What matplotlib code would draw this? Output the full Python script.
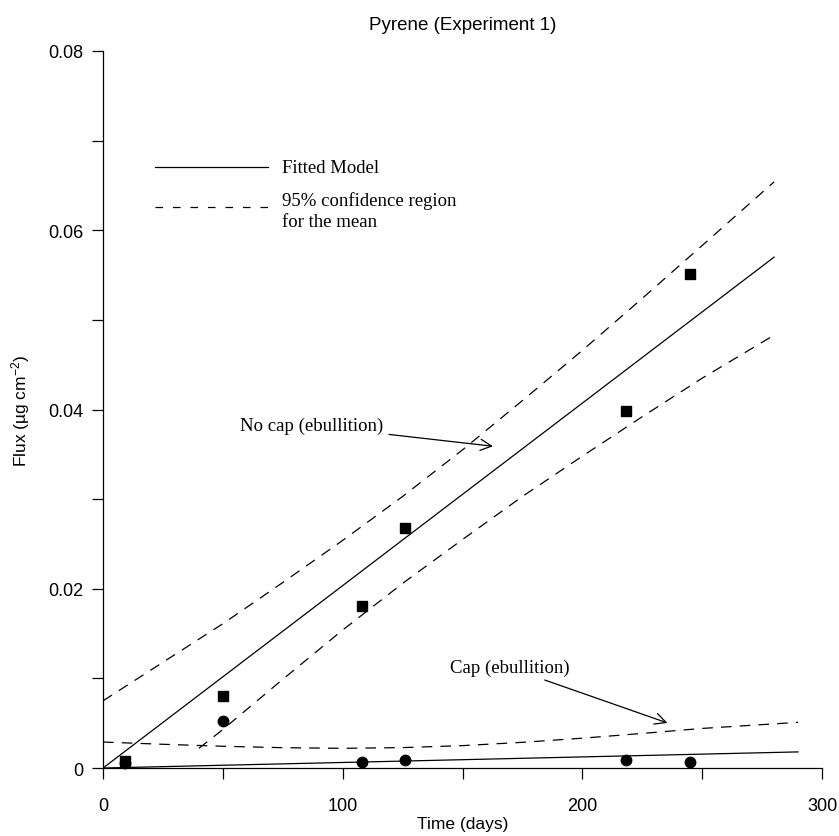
import matplotlib
matplotlib.use('Agg')
import matplotlib.pyplot as plt
from matplotlib.ticker import MultipleLocator

plt.rcParams['font.family'] = ['Liberation Sans', 'DejaVu Sans']
plt.rcParams['mathtext.default'] = 'regular'

# Datos: tiempo (dias) y flujo (ug cm-2)
dias_nocap = [9, 50, 108, 126, 218, 245]
flujo_nocap = [0.0008, 0.0080, 0.0181, 0.0268, 0.0398, 0.0551]
dias_cap = [9, 50, 108, 126, 218, 245]
flujo_cap = [0.0006, 0.0052, 0.0007, 0.0009, 0.0009, 0.0007]

# Modelo ajustado (extremos de las rectas)
x_ajuste_nocap = [0, 280]
y_ajuste_nocap = [0.0, 0.0570]
x_ajuste_cap = [0, 290]
y_ajuste_cap = [0.0, 0.0018]

# Banda de confianza 95% (puntos leidos a lo largo de las curvas)
x_sup_nocap = [0, 25, 50, 75, 100, 125, 150, 175, 200, 225, 250, 280]
y_sup_nocap = [0.0075, 0.0118, 0.0161, 0.0207, 0.0254, 0.0303, 0.0355, 0.0410, 0.0466, 0.0524, 0.0583, 0.0654]
x_inf_nocap = [40, 50, 75, 100, 125, 150, 175, 200, 225, 250, 280]
y_inf_nocap = [0.0022, 0.0043, 0.0099, 0.0154, 0.0206, 0.0255, 0.0303, 0.0348, 0.0392, 0.0435, 0.0483]
x_sup_cap = [0, 25, 50, 75, 100, 125, 150, 175, 200, 225, 250, 290]
y_sup_cap = [0.0029, 0.00265, 0.00243, 0.00227, 0.0022, 0.00228, 0.0025, 0.00287, 0.00333, 0.00386, 0.00442, 0.0051]

fig = plt.figure(figsize=(8.39, 8.37), dpi=100)
ax = fig.add_axes([0.1228, 0.0812, 0.857, 0.8567])

lw = 0.9
guiones = (8.5, 6.5)
ax.plot(x_ajuste_nocap, y_ajuste_nocap, color='black', lw=lw)
ax.plot(x_ajuste_cap, y_ajuste_cap, color='black', lw=lw)
ax.plot(x_sup_nocap, y_sup_nocap, color='black', lw=lw, dashes=guiones)
ax.plot(x_inf_nocap, y_inf_nocap, color='black', lw=lw, dashes=guiones)
ax.plot(x_sup_cap, y_sup_cap, color='black', lw=lw, dashes=guiones)

ax.plot(dias_nocap, flujo_nocap, 's', color='black', markersize=7, clip_on=False)
ax.plot(dias_cap, flujo_cap, 'o', color='black', markersize=7.5, clip_on=False)

ax.set_xlim(0, 300)
ax.set_ylim(0, 0.08)
ax.xaxis.set_major_locator(MultipleLocator(100))
ax.xaxis.set_minor_locator(MultipleLocator(50))
ax.yaxis.set_major_locator(MultipleLocator(0.02))
ax.yaxis.set_minor_locator(MultipleLocator(0.01))
ax.yaxis.set_major_formatter(plt.FuncFormatter(lambda v, p: '0' if v == 0 else '{:.2f}'.format(v)))
ax.tick_params(which='both', direction='out', length=8, width=0.9, labelsize=13)
ax.tick_params(axis='x', pad=13)
ax.tick_params(axis='y', pad=6)
for lado in ['top', 'right']:
    ax.spines[lado].set_visible(False)
for lado in ['left', 'bottom']:
    ax.spines[lado].set_linewidth(0.9)

ax.set_title('Pyrene (Experiment 1)', fontsize=13.5, pad=16)
ax.set_xlabel('Time (days)', fontsize=12.5, labelpad=1)
ax.set_ylabel('Flux (µg cm$^{-2}$)', fontsize=12.5, labelpad=12)

# Leyenda dibujada a mano
serif = ['Liberation Serif', 'DejaVu Serif']
ax.plot([21.6, 68.8], [0.0670, 0.0670], color='black', lw=lw)
ax.plot([21.6, 68.8], [0.0626, 0.0626], color='black', lw=lw, dashes=(6, 8))
ax.text(74.6, 0.0670, 'Fitted Model', family=serif, fontsize=13.5, va='center')
ax.text(74.6, 0.0634, '95% confidence region', family=serif, fontsize=13.5, va='center')
ax.text(74.6, 0.0610, 'for the mean', family=serif, fontsize=13.5, va='center')

ax.annotate('No cap (ebullition)', xy=(162.7, 0.0359), xytext=(117, 0.0382),
            family=serif, fontsize=13.5, ha='right', va='center',
            arrowprops=dict(arrowstyle='->', color='black', lw=0.9, mutation_scale=20,
                            shrinkA=2, shrinkB=0))
ax.annotate('Cap (ebullition)', xy=(235.5, 0.00503), xytext=(194.5, 0.0112),
            family=serif, fontsize=13.5, ha='right', va='center',
            arrowprops=dict(arrowstyle='->', color='black', lw=0.9, mutation_scale=20,
                            shrinkA=2, shrinkB=0))

plt.savefig('out.png', dpi=100)
